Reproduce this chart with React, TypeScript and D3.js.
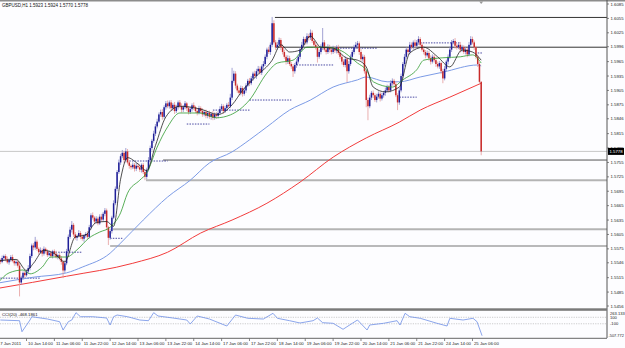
import React from 'react'
import * as d3 from 'd3'

// prices are stored as pips above 1.5000 (552 -> 1.5552)
const firstOpen = 555
const closes = [
  552, 548, 556, 560, 553, 547, 552, 558, 550, 545,
  548, 540, 505, 515, 525, 520, 528, 535, 560, 582,
  578, 590, 575, 568, 572, 565, 575, 570, 562, 566,
  560, 570, 565, 558, 562, 555, 548, 530, 545, 570,
  600, 615, 625, 605, 598, 602, 608, 600, 596, 603,
  606, 600, 620, 645, 640, 632, 638, 628, 642, 636,
  648, 655, 620, 598, 612, 640, 670, 700, 735, 755,
  768, 775, 760, 778, 755, 748, 745, 750, 742, 748,
  745, 740, 750, 735, 725, 740, 760, 785, 800, 815,
  830, 840, 855, 860, 850, 870, 878, 872, 880, 868,
  875, 862, 870, 880, 872, 865, 870, 878, 868, 860,
  866, 874, 870, 862, 858, 868, 862, 855, 860, 852,
  858, 850, 856, 848, 855, 852, 858, 866, 872, 862,
  868, 875, 872, 890, 925, 940, 915, 905, 900, 910,
  898, 905, 915, 925, 920, 930, 940, 935, 945, 950,
  942, 955, 960, 975, 990, 985, 1000, 1045, 1005, 995,
  1000, 1010, 995, 985, 975, 965, 972, 960, 955, 945,
  958, 965, 975, 990, 1000, 1012, 1005, 1018, 1015, 1025,
  1008, 1000, 995, 975, 985, 995, 1005, 990, 985, 995,
  990, 985, 992, 988, 995, 983, 975, 965, 958, 970,
  945, 960, 975, 985, 995, 1000, 1003, 985, 970, 975,
  945, 885, 872, 890, 900, 895, 885, 892, 898, 888,
  895, 900, 905, 912, 905, 920, 925, 918, 895, 880,
  905, 935, 960, 975, 990, 985, 1000, 995, 1005, 998,
  1005, 1012, 1000, 990, 985, 978, 983, 972, 965, 975,
  968, 960, 955, 962, 945, 930, 950, 965, 975, 990,
  1005, 1008, 998, 995, 1000, 990, 995, 985, 990, 980,
  1000, 1012, 1005, 995, 975, 960, 923, 778,
]
const upWicks = [
  4, 3, 5, 3, 4, 6, 3, 4, 5, 3, 4, 5, 6, 4, 3, 5, 4, 6, 5, 4,
  5, 10, 4, 3, 6, 4, 5, 3, 4, 6, 5, 3, 4, 6, 3, 4, 5, 4, 6, 5,
  5, 6, 8, 4, 5, 3, 6, 4, 5, 3, 4, 6, 5, 4, 6, 3, 5, 4, 5, 6,
  4, 5, 4, 3, 5, 4, 6, 5, 4, 6, 5, 6, 4, 7, 5, 4, 3, 5, 4, 6,
  4, 5, 3, 4, 5, 4, 6, 5, 4, 6, 5, 6, 4, 5, 6, 4, 5, 6, 4, 5,
  4, 6, 5, 4, 5, 6, 4, 5, 3, 4, 5, 4, 6, 3, 4, 5, 4, 6, 4, 5,
  4, 5, 3, 6, 4, 5, 4, 6, 5, 4, 5, 4, 6, 8, 27, 6, 5, 4, 6, 5,
  4, 6, 5, 4, 6, 5, 4, 6, 5, 6, 5, 4, 6, 5, 4, 6, 5, 13, 6, 5,
  6, 5, 4, 6, 5, 4, 6, 5, 4, 5, 4, 6, 5, 4, 6, 5, 4, 6, 5, 7,
  5, 4, 6, 4, 5, 6, 30, 5, 4, 6, 5, 4, 6, 5, 4, 5, 6, 4, 5, 6,
  4, 6, 5, 4, 5, 6, 5, 4, 6, 5, 4, 3, 5, 6, 4, 5, 4, 6, 5, 4,
  5, 4, 6, 5, 4, 6, 5, 4, 5, 4, 6, 5, 4, 6, 5, 4, 6, 5, 4, 6,
  5, 6, 4, 5, 6, 4, 5, 4, 6, 5, 4, 6, 5, 4, 3, 5, 6, 4, 5, 6,
  5, 4, 6, 5, 4, 6, 5, 4, 5, 4, 6, 6, 5, 4, 3, 5, 4, 1,
]
const downWicks = [
  4, 5, 3, 6, 4, 3, 5, 4, 3, 5, 5, 4, 29, 5, 4, 6, 3, 4, 5, 4,
  6, 5, 4, 5, 3, 6, 4, 5, 4, 3, 4, 5, 6, 3, 5, 4, 6, 16, 5, 4,
  5, 4, 6, 5, 4, 6, 3, 5, 4, 6, 5, 4, 3, 5, 4, 6, 5, 4, 3, 5,
  4, 5, 6, 15, 4, 5, 3, 4, 5, 4, 5, 4, 6, 5, 4, 6, 5, 4, 6, 5,
  4, 5, 6, 4, 7, 5, 4, 3, 5, 4, 5, 4, 3, 5, 6, 4, 5, 4, 5, 6,
  5, 6, 4, 5, 4, 6, 5, 4, 6, 5, 4, 5, 6, 4, 5, 3, 6, 5, 4, 5,
  5, 4, 6, 5, 4, 6, 5, 3, 4, 6, 4, 5, 3, 4, 5, 4, 6, 5, 4, 5,
  6, 4, 5, 3, 6, 4, 5, 4, 6, 5, 4, 5, 6, 4, 5, 4, 6, 5, 4, 6,
  5, 4, 6, 5, 4, 6, 5, 4, 5, 12, 5, 6, 4, 5, 4, 6, 5, 4, 6, 5,
  4, 6, 5, 12, 4, 5, 6, 4, 5, 4, 6, 5, 4, 5, 6, 4, 5, 6, 4, 5,
  23, 5, 4, 6, 5, 4, 5, 6, 4, 5, 5, 15, 29, 4, 5, 6, 4, 5, 4, 6,
  4, 5, 6, 4, 5, 4, 5, 6, 4, 16, 5, 4, 6, 5, 4, 6, 5, 4, 5, 6,
  4, 5, 6, 4, 5, 6, 4, 5, 6, 4, 5, 6, 4, 5, 6, 10, 4, 5, 6, 4,
  5, 4, 6, 5, 4, 6, 5, 4, 5, 6, 4, 5, 4, 6, 5, 6, 5, 8,
]

// moving averages, [bar, pips]
const maRed = [[0, 493], [39, 518], [77, 545], [97, 568], [116, 608], [134, 635], [154, 670], [173, 714], [192, 766], [211, 806], [230, 839], [242, 864], [259, 891], [277, 920]]
const maBlue = [[0, 504], [20, 516], [39, 525], [48, 537], [64, 566], [70, 587], [83, 635], [97, 683], [110, 718], [121, 754], [134, 777], [144, 802], [154, 829], [167, 864], [179, 885], [192, 912], [206, 927], [211, 933], [223, 923], [230, 923], [242, 933], [255, 943], [275, 958], [277, 956]]
const maGreen = [[0, 506], [6, 525], [14, 531], [18, 523], [25, 537], [30, 558], [39, 558], [45, 573], [52, 598], [58, 610], [64, 620], [70, 650], [74, 691], [81, 718], [85, 733], [91, 787], [97, 829], [104, 858], [116, 858], [125, 848], [133, 854], [144, 885], [154, 941], [160, 962], [169, 968], [177, 995], [188, 995], [196, 989], [206, 962], [211, 948], [215, 923], [226, 912], [232, 927], [240, 948], [244, 968], [255, 973], [265, 975], [272, 979], [277, 962]]
const maBlack = [[0, 550], [10, 553], [16, 530], [20, 545], [26, 572], [32, 565], [38, 548], [44, 600], [50, 604], [56, 630], [62, 632], [66, 622], [70, 720], [74, 765], [80, 752], [85, 738], [90, 790], [96, 850], [104, 872], [116, 866], [126, 855], [134, 875], [140, 905], [148, 935], [157, 968], [162, 1000], [167, 985], [173, 989], [179, 1018], [185, 995], [192, 993], [200, 972], [206, 968], [211, 954], [215, 912], [222, 902], [230, 912], [236, 983], [244, 995], [252, 975], [259, 954], [266, 989], [272, 985], [277, 968]]

// dotted pivot segments: start bar, end bar, pips
const pivotStart = [1, 28, 64, 75, 108, 123, 144, 171, 196, 230, 242, 275]
const pivotEnd = [24, 48, 71, 97, 121, 144, 168, 192, 217, 240, 265, 278]
const pivotLevel = [514, 568, 597, 758, 835, 864, 885, 958, 993, 891, 1004, 983]

// horizontal levels drawn to the right edge
const levelPrice = [1.6057, 1.5995, 1.576, 1.5718, 1.5616, 1.5581]
const levelFromBar = [158.6, 158.6, 94.4, 84.6, 65.7, 64]

const bidPrice = 1.5778
const priceTicks = ['1.6085', '1.6055', '1.6025', '1.5996', '1.5965', '1.5935', '1.5905', '1.5875', '1.5846', '1.5815', '1.5785', '1.5755', '1.5725', '1.5695', '1.5665', '1.5635', '1.5605', '1.5575', '1.5546', '1.5515', '1.5485', '1.5456']
const timeLabels = ['7 Jan 2011', '10 Jan 14:00', '11 Jan 06:00', '11 Jan 22:00', '12 Jan 14:00', '13 Jan 06:00', '13 Jan 22:00', '14 Jan 14:00', '17 Jan 06:00', '17 Jan 22:00', '18 Jan 14:00', '19 Jan 06:00', '19 Jan 22:00', '20 Jan 14:00', '21 Jan 06:00', '21 Jan 22:00', '24 Jan 14:00', '25 Jan 06:00']
const barsPerLabel = 16

// CCI(20)
const cci = [[1, 16], [12, -5], [13.4, -345], [18, 16], [19, 118], [28, 47], [35, -36], [37, -292], [40, -36], [42, 16], [44.4, 242], [47, 118], [54, 118], [62, 78], [64, -138], [66, 118], [68, 170], [74, 118], [81, 16], [86, -5], [89, 242], [91.5, 140], [100, 78], [108, 16], [110, -107], [114, 140], [121, 47], [131, -169], [136, 170], [143, 69], [152, 47], [157.5, 223], [160, 69], [167, -5], [173, -76], [180.5, -5], [183, 78], [186, -67], [192, -85], [197.7, -270], [203, -85], [206, 16], [211.5, -292], [213, -138], [221, -85], [228.7, -5], [230.4, -138], [233.3, 223], [236, 118], [242, 69], [251.6, -85], [257.4, -169], [259, 69], [266.6, 16], [272.3, 69], [274.6, -36], [277.5, -468.19]]
const cciMax = 263.133
const cciMin = -507.772
const cciLevels = [100, -100]

const px = (p: number) => 1.5 + p / 10000

export default function App() {
  const W = 625
  const H = 348
  const axisX = 607
  const x = d3.scaleLinear().domain([0, 277]).range([-1.37, 481.2])
  const y = d3.scaleLinear().domain([1.5456, 1.6085]).range([306, 4])
  const yc = d3.scaleLinear().domain([cciMin, cciMax]).range([337, 312])

  const opens = closes.map((c, i) => (i === 0 ? firstOpen : closes[i - 1]))

  const maLine = d3
    .line<number[]>()
    .x(d => x(d[0]))
    .y(d => y(px(d[1])))
    .curve(d3.curveMonotoneX)
  const cciLine = d3
    .line<number[]>()
    .x(d => x(d[0]))
    .y(d => yc(d[1]))

  const font = 'Liberation Sans, Arial, sans-serif'
  const levelStyle = [
    { c: '#333', w: 1 },
    { c: '#333', w: 1 },
    { c: '#555', w: 1 },
    { c: '#b4b4b4', w: 2 },
    { c: '#b4b4b4', w: 2 },
    { c: '#777', w: 1.2 },
  ]

  return (
    <div style={{ position: 'fixed', left: 0, top: 0 }}>
      <svg width={W} height={H} style={{ display: 'block', background: '#fdfdff' }}>
        <defs>
          <clipPath id="main">
            <rect x={0} y={2} width={axisX} height={306} />
          </clipPath>
          <clipPath id="sub">
            <rect x={0} y={311} width={axisX} height={27} />
          </clipPath>
        </defs>

        <rect x={0} y={0} width={W} height={1.5} fill="#8c8c8c" />

        <g clipPath="url(#main)">
          <line x1={0} x2={axisX} y1={y(bidPrice)} y2={y(bidPrice)} stroke="#c8c8c8" strokeWidth={1} />
          {levelPrice.map((p, i) => (
            <line key={i} x1={x(levelFromBar[i])} x2={axisX} y1={y(p)} y2={y(p)}
              stroke={levelStyle[i].c} strokeWidth={levelStyle[i].w} />
          ))}
          {pivotLevel.map((p, i) => (
            <line key={i} x1={x(pivotStart[i])} x2={x(pivotEnd[i])} y1={y(px(p))} y2={y(px(p))}
              stroke="#1b1b8a" strokeWidth={0.8} strokeDasharray="1.5,1.2" />
          ))}
          <path d={maLine(maRed) || ''} fill="none" stroke="#f23c3c" strokeWidth={1} />
          <path d={maLine(maBlue) || ''} fill="none" stroke="#7c9be6" strokeWidth={1} />
          {closes.map((c, i) => {
            const o = opens[i]
            const up = c >= o
            const hi = Math.max(o, c) + upWicks[i]
            const lo = Math.min(o, c) - downWicks[i]
            const cx = x(i)
            const top = y(px(Math.max(o, c)))
            const bot = y(px(Math.min(o, c)))
            return (
              <g key={i}>
                <line x1={cx} x2={cx} y1={y(px(hi))} y2={y(px(lo))}
                  stroke={up ? '#8a8ac8' : '#e49a9a'} strokeWidth={0.8} />
                <rect x={cx - 0.75} y={top} width={1.5} height={Math.max(0.7, bot - top)}
                  fill={up ? '#1e1e98' : '#c82a2a'} />
              </g>
            )
          })}
          <path d={maLine(maGreen) || ''} fill="none" stroke="#2f9a2f" strokeWidth={0.8} />
          <path d={maLine(maBlack) || ''} fill="none" stroke="#222" strokeWidth={0.8} />
        </g>

        <text x={2} y={7} fontFamily={font} fontSize={4.5} fill="#111">GBPUSD,H1  1.5923 1.5924 1.5770 1.5778</text>
        <path d={`M${x(277) + 2},1.5 l-2,2.5 l-2,-2.5 z`} fill="#999" />

        {/* price axis */}
        <line x1={axisX} x2={axisX} y1={0} y2={338} stroke="#555" strokeWidth={1} />
        {priceTicks.map(t => (
          <g key={t}>
            <line x1={axisX} x2={axisX + 2} y1={y(+t)} y2={y(+t)} stroke="#555" strokeWidth={0.7} />
            <text x={axisX + 3.5} y={y(+t)} dy="0.35em" fontFamily={font} fontSize={4.3} fill="#222">{t}</text>
          </g>
        ))}
        <rect x={axisX + 1} y={y(bidPrice) - 3.5} width={16} height={7} fill="#000" />
        <text x={axisX + 2.5} y={y(bidPrice)} dy="0.35em" fontFamily={font} fontSize={4.3} fill="#fff">1.5778</text>

        {/* separator */}
        <rect x={0} y={308.3} width={axisX} height={2.5} fill="#7a7a7a" />

        {/* CCI panel */}
        <g clipPath="url(#sub)">
          {cciLevels.map(l => (
            <line key={l} x1={0} x2={axisX} y1={yc(l)} y2={yc(l)} stroke="#aaa" strokeWidth={0.6} strokeDasharray="1.2,1.2" />
          ))}
          <path d={cciLine(cci) || ''} fill="none" stroke="#6f8fe6" strokeWidth={0.8} />
        </g>
        <text x={2} y={315.5} fontFamily={font} fontSize={4.3} fill="#111">CCI(20) -468.1861</text>
        <text x={axisX + 3} y={313.3} dy="0.35em" fontFamily={font} fontSize={4.1} fill="#222">263.133</text>
        <text x={axisX + 3} y={yc(100)} dy="0.35em" fontFamily={font} fontSize={4.1} fill="#222">100</text>
        <text x={axisX + 3} y={yc(-100)} dy="0.35em" fontFamily={font} fontSize={4.1} fill="#222">-100</text>
        <text x={axisX + 1.5} y={335.5} dy="0.35em" fontFamily={font} fontSize={3.9} fill="#222">-507.772</text>
        <line x1={0} x2={axisX} y1={338.3} y2={338.3} stroke="#666" strokeWidth={1} />

        {/* time axis */}
        {timeLabels.map((t, k) => {
          const tx = x(k * barsPerLabel)
          return (
            <g key={t}>
              <line x1={tx} x2={tx} y1={338.5} y2={341} stroke="#555" strokeWidth={0.7} />
              <text x={tx + 1.5} y={345} fontFamily={font} fontSize={4.3} fill="#222">{t}</text>
            </g>
          )
        })}
      </svg>
    </div>
  )
}
